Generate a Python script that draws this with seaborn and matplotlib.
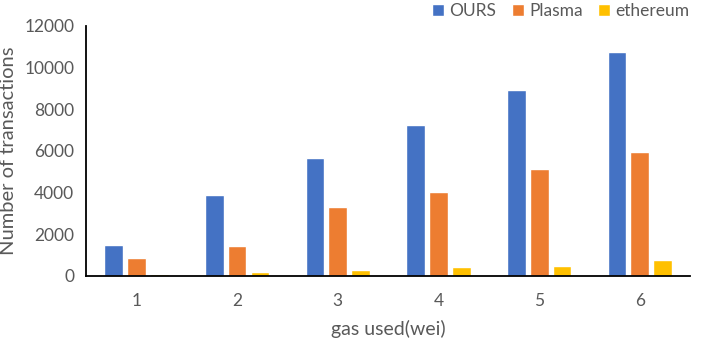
import matplotlib
matplotlib.use("Agg")
import matplotlib.pyplot as plt
from matplotlib.ticker import FixedLocator
import seaborn as sns
import pandas as pd

# 数据
categories = ["1", "2", "3", "4", "5", "6"]
ours = [1500, 3900, 5650, 7230, 8930, 10770]
plasma = [870, 1430, 3300, 4020, 5150, 5970]
ethereum = [80, 190, 310, 420, 480, 760]
series_names = ["OURS", "Plasma", "ethereum"]
colors = ["#4472C4", "#ED7D31", "#FFC000"]

sns.set_style("white")
plt.rcParams['font.family'] = ['Lato', 'DejaVu Sans']

df = pd.DataFrame({
    "gas": categories * 3,
    "value": ours + plasma + ethereum,
    "series": [s for s in series_names for _ in categories],
})

fig = plt.figure(figsize=(7.05, 3.42), dpi=100)
ax = fig.add_axes([0.122, 0.193, 0.857, 0.731])

sns.barplot(data=df, x="gas", y="value", hue="series", palette=colors,
            width=0.68, gap=0.18, ax=ax, legend=True, saturation=1)

ax.set_ylim(0, 12000)
ax.set_xlim(-0.5, 5.5)
ax.set_yticks(range(0, 12001, 2000))

# x轴刻度线在类别之间
ax.tick_params(axis="x", which="major", length=0, pad=12)
ax.xaxis.set_minor_locator(FixedLocator([i - 0.5 for i in range(7)]))
ax.tick_params(axis="x", which="minor", length=6, width=1.2, color="black", direction="out")
ax.tick_params(axis="y", length=5, width=1.2, color="black", direction="out")
ax.tick_params(labelsize=12.5, labelcolor="#595959")

for side in ["top", "right"]:
    ax.spines[side].set_visible(False)
for side in ["left", "bottom"]:
    ax.spines[side].set_color("black")
    ax.spines[side].set_linewidth(1.3)

ax.set_xlabel("gas used(wei)", fontsize=14, color="#595959", labelpad=8)
ax.set_ylabel("Number of transactions", fontsize=14.5, color="#595959", labelpad=5)

leg = ax.legend(loc="upper right", bbox_to_anchor=(1.025, 1.155), ncol=3, frameon=False,
                fontsize=12.5, handlelength=0.7, handleheight=0.7, handletextpad=0.3,
                columnspacing=0.9, labelcolor="#595959")

fig.savefig("out.png", dpi=100)
